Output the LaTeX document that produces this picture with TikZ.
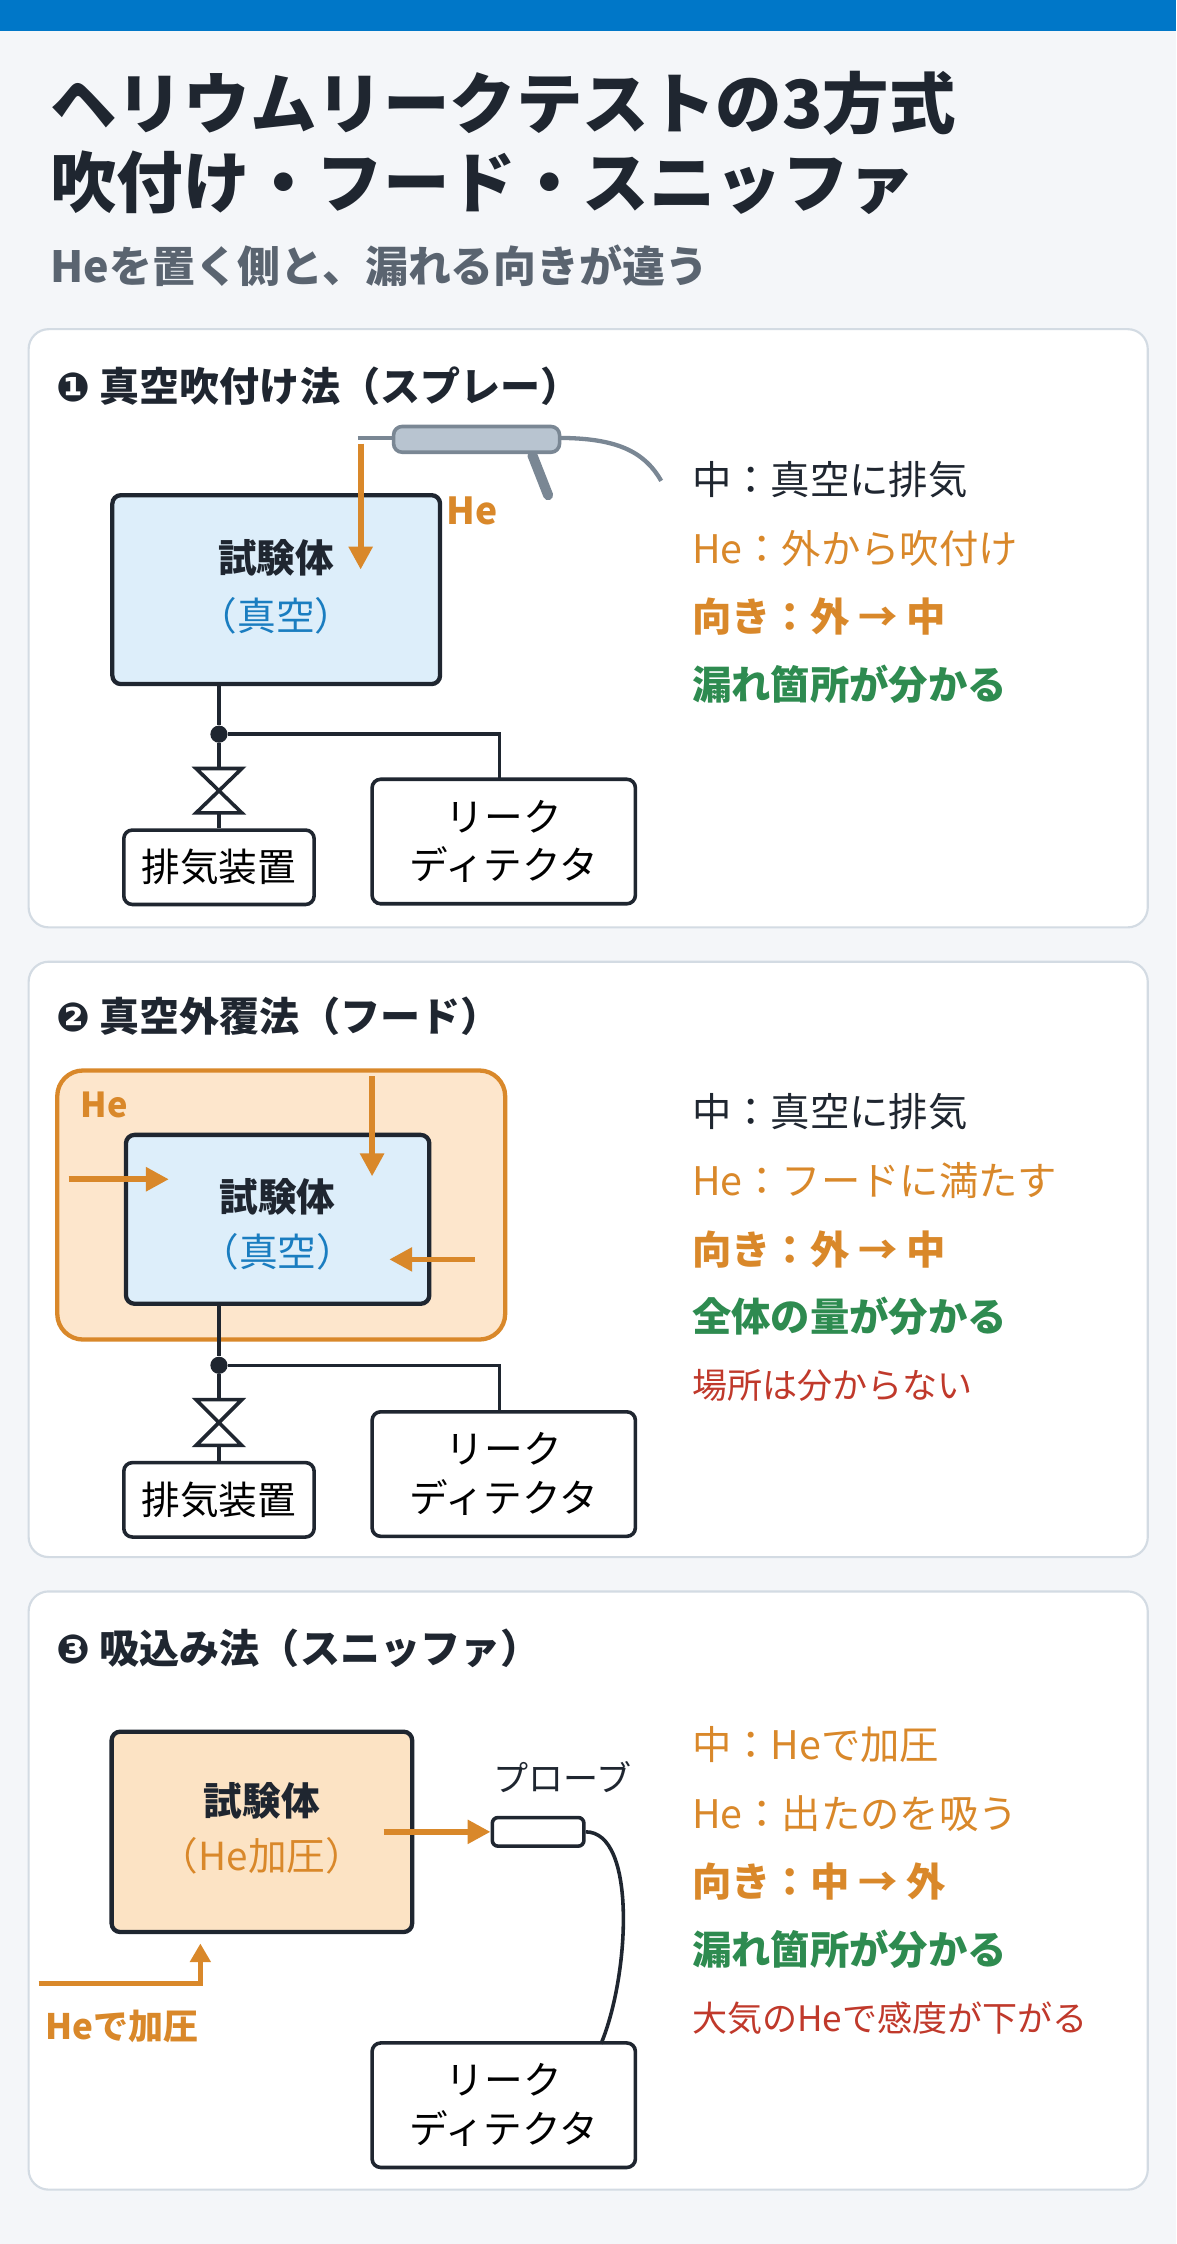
\documentclass[tikz,border=0pt]{standalone}
\usepackage{fontspec}
\setmainfont{Noto Sans CJK JP}
\newfontfamily\dv{DejaVu Sans}
\usetikzlibrary{arrows.meta}
\definecolor{bar}{HTML}{0077C8}
\definecolor{bg}{HTML}{F4F6F9}
\definecolor{pb}{HTML}{D3DBE3}
\definecolor{ink}{HTML}{1F2630}
\definecolor{org}{HTML}{D9882A}
\definecolor{grn}{HTML}{2E8B50}
\definecolor{red}{HTML}{C0392B}
\definecolor{blu}{HTML}{1A7DC0}
\definecolor{lblue}{HTML}{DDEEFA}
\definecolor{lorg}{HTML}{FDE6CC}
\definecolor{lorg2}{HTML}{FCE3C4}
\definecolor{gunf}{HTML}{B8C4D0}
\definecolor{gun}{HTML}{7A8794}
\definecolor{sub}{HTML}{5A6470}
\begin{document}
\begin{tikzpicture}[x=1pt,y=-1pt,
 panel/.style={draw=pb,line width=1.5pt,fill=white,rounded corners=14pt},
 body/.style={draw=ink,line width=3pt,rounded corners=6pt},
 box/.style={draw=ink,line width=2.5pt,fill=white,rounded corners=6pt,align=center,font=\fontsize{27}{34}\selectfont,inner sep=0pt},
 pipe/.style={draw=ink,line width=2.5pt},
 oarr/.style={draw=org,line width=4pt,-{Triangle[length=16pt,width=16pt]}},
 head/.style={anchor=west,font=\fontsize{28}{32}\selectfont\bfseries,text=ink},
 rt/.style={anchor=west,font=\fontsize{27.5}{32}\selectfont},
 rtb/.style={anchor=west,font=\fontsize{27.5}{32}\selectfont\bfseries},
 tb/.style={font=\fontsize{27}{32}\selectfont\bfseries,text=ink},
 dot/.style={circle,fill=ink,inner sep=0pt,minimum size=12pt}]
\useasboundingbox (0,0) rectangle (822,1568);
\fill[bg] (0,0) rectangle (822,1568);
\fill[bar] (0,0) rectangle (822,22);
\node[anchor=west,font=\fontsize{46.5}{52}\selectfont\bfseries,text=ink,inner sep=0pt] (t1) at (35,72) {ヘリウムリークテストの3方式};
\node[anchor=west,font=\fontsize{46.5}{52}\selectfont\bfseries,text=ink,inner sep=0pt] (t2) at (35,128) {吹付け・フード・スニッファ};
\node[anchor=west,font=\fontsize{30}{34}\selectfont\bfseries,text=sub,inner sep=0pt] (t3) at (35,186) {Heを置く側と、漏れる向きが違う};
% Panel 1
\path[panel] (20,230) rectangle (802,648);
\node[head] (h1) at (36,270) {{\dv ❶} 真空吹付け法（スプレー）};
\draw[gun,line width=3pt] (250,306) -- (278,306);
\draw[gun,line width=3pt] (390,306) .. controls (430,306) and (450,315) .. (462,336);
\draw[gun,line width=7pt,line cap=round] (372,318) -- (383,346);
\node[draw=gun,fill=gunf,line width=2.5pt,rounded corners=6pt,minimum width=116pt,minimum height=18pt,inner sep=0pt] (gun1) at (333,307) {};
\node[body,fill=lblue,minimum width=229pt,minimum height=132pt] (b1) at (193,412) {};
\node[tb] (b1t) at (193,390) {試験体};
\node[font=\fontsize{27}{32}\selectfont,text=blu] (b1s) at (193,430) {（真空）};
\coordinate (a1s) at (252,310); \coordinate (a1e) at (252,398);
\draw[oarr] (a1s) -- (a1e);
\node[font=\fontsize{26}{30}\selectfont\bfseries,text=org] (he1) at (330,357) {He};
\node[box,minimum width=133pt,minimum height=52pt] (ex1) at (153,606) {排気装置};
\node[box,minimum width=184pt,minimum height=87pt] (ld1) at (352,588) {リーク\\ディテクタ};
\node[dot] (d1) at (153,513) {};
\coordinate (v1t) at (153,537); \coordinate (v1b) at (153,568);
\draw[pipe] (b1.south -| d1) -- (d1) -- (v1t);
\draw[pipe,fill=white,line join=miter] (137,537) -- (169,537) -- (137,568) -- (169,568) -- cycle;
\draw[pipe] (v1b) -- (ex1.north);
\draw[pipe] (d1) -- (349,513) -- (349,545);
\node[rt,text=ink] (r11) at (480,335) {中：真空に排気};
\node[rt,text=org] (r12) at (480,383) {He：外から吹付け};
\node[rtb,text=org] (r13) at (480,431) {向き：外 → 中};
\node[rtb,text=grn] (r14) at (480,478) {漏れ箇所が分かる};
% Panel 2
\path[panel] (20,672) rectangle (802,1088);
\node[head] (h2) at (36,710) {{\dv ❷} 真空外覆法（フード）};
\node[draw=org,fill=lorg,line width=3pt,rounded corners=18pt,minimum width=313pt,minimum height=188pt] (hood) at (196.5,842) {};
\node[font=\fontsize{24}{30}\selectfont\bfseries,text=org] (he2) at (73,772) {He};
\node[body,fill=lblue,minimum width=212pt,minimum height=118pt] (b2) at (194,852) {};
\node[tb] (b2t) at (194,836) {試験体};
\node[font=\fontsize{27}{32}\selectfont,text=blu] (b2s) at (194,875) {（真空）};
\coordinate (a2s) at (48,824); \coordinate (a2e) at (118,824);
\coordinate (a3s) at (260,752); \coordinate (a3e) at (260,822);
\coordinate (a4s) at (332,880); \coordinate (a4e) at (272,880);
\draw[oarr] (a2s) -- (a2e);
\draw[oarr] (a3s) -- (a3e);
\draw[oarr] (a4s) -- (a4e);
\node[box,minimum width=133pt,minimum height=52pt] (ex2) at (153,1048) {排気装置};
\node[box,minimum width=184pt,minimum height=87pt] (ld2) at (352,1030) {リーク\\ディテクタ};
\node[dot] (d2) at (153,954) {};
\draw[pipe] (b2.south -| d2) -- (d2) -- (153,978);
\draw[pipe,fill=white,line join=miter] (137,978) -- (169,978) -- (137,1010) -- (169,1010) -- cycle;
\draw[pipe] (153,1010) -- (ex2.north);
\draw[pipe] (d2) -- (349,954) -- (349,987);
\node[rt,text=ink] (r21) at (480,777) {中：真空に排気};
\node[rt,text=org] (r22) at (480,825) {He：フードに満たす};
\node[rtb,text=org] (r23) at (480,873) {向き：外 → 中};
\node[rtb,text=grn] (r24) at (480,920) {全体の量が分かる};
\node[anchor=west,font=\fontsize{24.5}{30}\selectfont,text=red] (r25) at (480,968) {場所は分からない};
% Panel 3
\path[panel] (20,1112) rectangle (802,1530);
\node[head] (h3) at (36,1152) {{\dv ❸} 吸込み法（スニッファ）};
\node[body,fill=lorg2,minimum width=210pt,minimum height=140pt] (b3) at (183,1280) {};
\node[tb] (b3t) at (183,1258) {試験体};
\node[font=\fontsize{27}{32}\selectfont,text=org] (b3s) at (183,1297) {（He加圧）};
\node[draw=ink,line width=2.5pt,fill=white,rounded corners=4pt,minimum width=64pt,minimum height=20pt,inner sep=0pt] (pr) at (376,1280) {};
\node[font=\fontsize{24.5}{30}\selectfont,text=ink] (prl) at (393,1242) {プローブ};
\coordinate (a5s) at (268,1280);
\draw[oarr] (a5s) -- (pr.west);
\node[box,minimum width=184pt,minimum height=87pt] (ld3) at (352,1471) {リーク\\ディテクタ};
\draw[pipe] (pr.east) .. controls (445,1280) and (440,1380) .. (420,1428);
\coordinate (a6s) at (27,1386); \coordinate (a6c) at (140,1386); \coordinate (a6e) at (140,1358);
\draw[draw=org,line width=3.5pt,-{Triangle[length=13pt,width=14pt]}] (a6s) -- (a6c) -- (a6e);
\node[font=\fontsize{24.5}{30}\selectfont\bfseries,text=org] (hp) at (85,1416) {Heで加圧};
\node[rt,text=org] (r31) at (480,1219) {中：Heで加圧};
\node[rt,text=org] (r32) at (480,1267) {He：出たのを吸う};
\node[rtb,text=org] (r33) at (480,1315) {向き：中 → 外};
\node[rtb,text=grn] (r34) at (480,1362) {漏れ箇所が分かる};
\node[anchor=west,font=\fontsize{24.5}{30}\selectfont,text=red] (r35) at (480,1410) {大気のHeで感度が下がる};
\end{tikzpicture}
\end{document}
